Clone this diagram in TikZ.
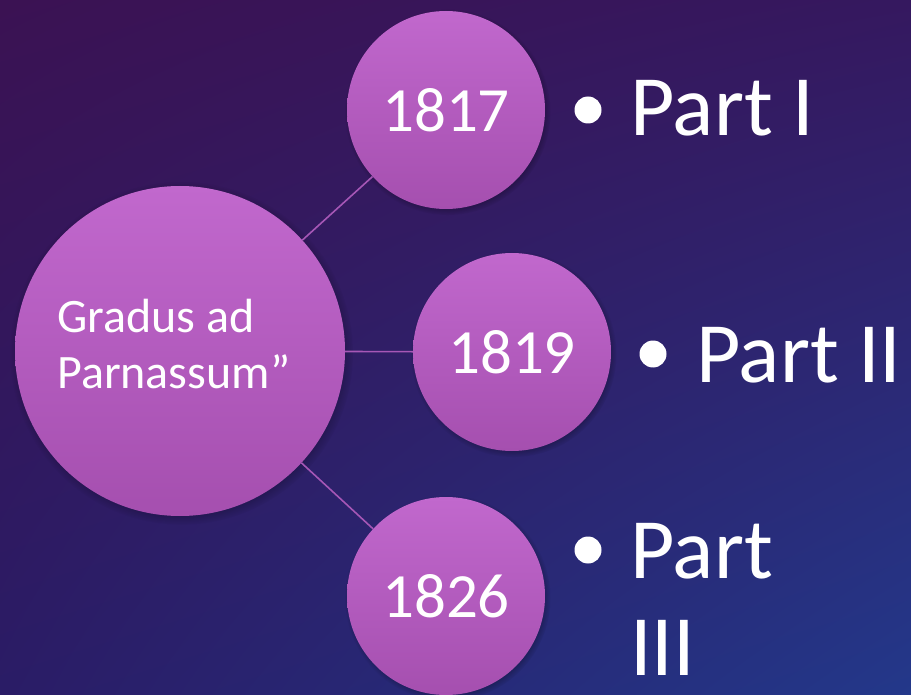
\documentclass[tikz,border=0pt]{standalone}
\usepackage{fontspec}
\setmainfont{Carlito}
\usetikzlibrary{shadows,shadings}

\definecolor{bgTL}{HTML}{3B1253}
\definecolor{bgTR}{HTML}{35185F}
\definecolor{bgBL}{HTML}{2A1C66}
\definecolor{bgBR}{HTML}{23388A}
\definecolor{discTop}{HTML}{C168CD}
\definecolor{discBot}{HTML}{A54FAF}
\definecolor{linkCol}{HTML}{A657B6}

\tikzset{
  disc/.style={circle, draw=none, inner sep=0pt, text=white,
    top color=discTop, bottom color=discBot,
    circular drop shadow={fill=black, shadow xshift=1.5pt, shadow yshift=-2pt,
      shadow scale=1.04, opacity=0.5}},
  hubdisc/.style={disc, minimum size=330pt},
  yeardisc/.style={disc, minimum size=198pt, font=\fontsize{63}{74}\selectfont},
  link/.style={draw=linkCol, line width=1.6pt},
  bulletdot/.style={circle, fill=white, draw=none, inner sep=0pt, minimum size=27pt},
  parttext/.style={text=white, anchor=base west, inner sep=0pt,
    font=\fontsize{86}{97}\selectfont},
  hubtext/.style={text=white, anchor=base west, inner sep=0pt,
    font=\fontsize{48}{55}\selectfont}
}

\begin{document}
\begin{tikzpicture}[x=1pt, y=-1pt]
  % backdrop
  \useasboundingbox (0,0) rectangle (911,695);
  \shade[upper left=bgTL, upper right=bgTR, lower left=bgBL, lower right=bgBR]
    (0,0) rectangle (911,695);

  % discs
  \node[hubdisc] (hub) at (180,351) {};
  \node[yeardisc] (y1817) at (446,110) {1817};
  \node[yeardisc] (y1819) at (512,352) {1819};
  \node[yeardisc] (y1826) at (446,596) {1826};

  % connectors between the hub and the year discs
  \path[link] (hub) -- (y1817);
  \path[link] (hub) -- (y1819);
  \path[link] (hub) -- (y1826);

  % hub caption
  \node[hubtext] (hubA) at (57,333) {Gradus ad};
  \node[hubtext] (hubB) at (57,388) {Parnassum”};

  % bulleted parts
  \node[bulletdot] (b1) at (588,110) {};
  \node[parttext] (p1) at (630,136) {Part I};
  \node[bulletdot] (b2) at (653,354) {};
  \node[parttext] (p2) at (696,382) {Part II};
  \node[bulletdot] (b3) at (588,550) {};
  \node[parttext] (p3a) at (630,578) {Part};
  \node[parttext] (p3b) at (630,675) {III};
\end{tikzpicture}
\end{document}
